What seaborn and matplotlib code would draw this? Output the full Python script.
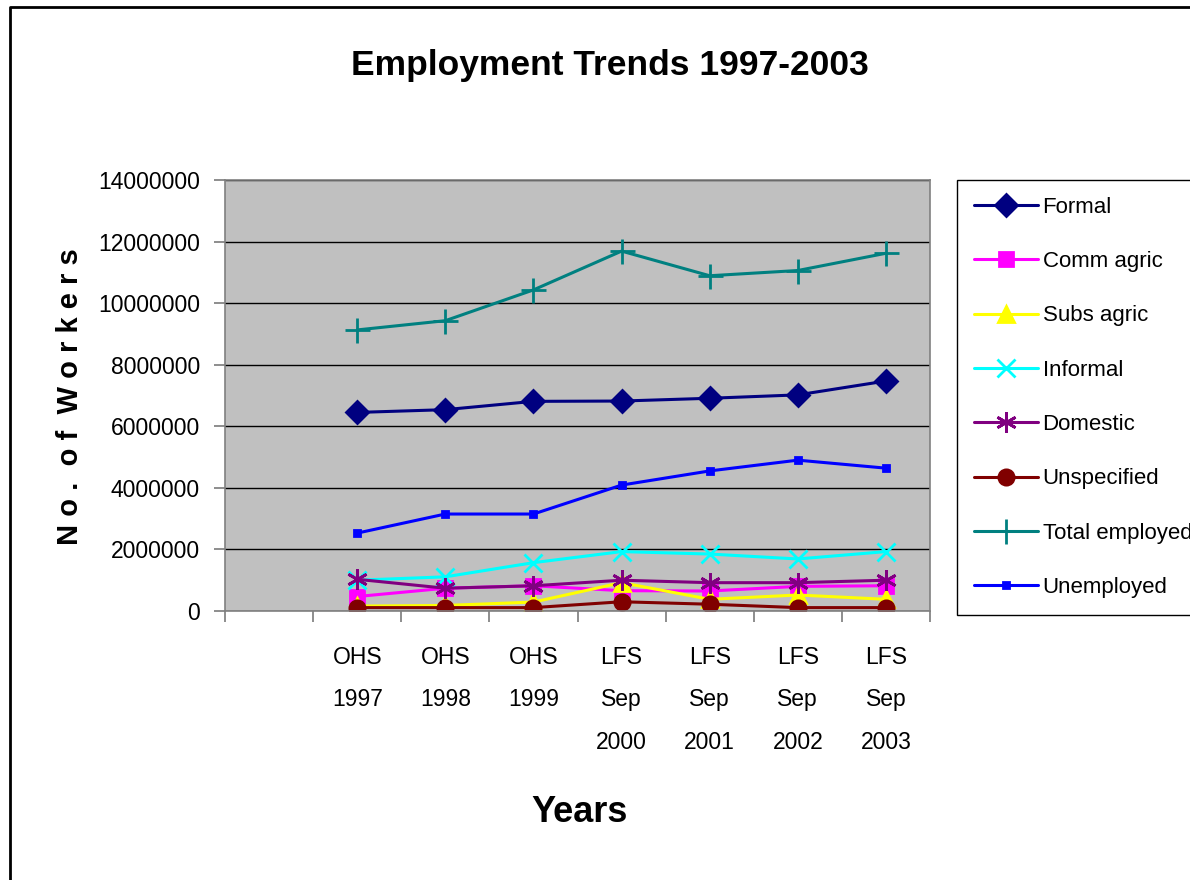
"""Employment trends 1997-2003, redrawn in the old Excel chart look."""
import matplotlib
matplotlib.use("Agg")
import matplotlib.pyplot as plt
from matplotlib.lines import Line2D
import seaborn as sns

# Category slots: the first one is empty, as in the source sheet.
categories = ["", "OHS\n1997", "OHS\n1998", "OHS\n1999",
              "LFS\nSep\n2000", "LFS\nSep\n2001", "LFS\nSep\n2002", "LFS\nSep\n2003"]
surveys = categories[1:]

formal = [6450000, 6540000, 6810000, 6820000, 6910000, 7020000, 7470000]
comm_agric = [470000, 740000, 820000, 660000, 650000, 800000, 820000]
subs_agric = [160000, 180000, 290000, 920000, 380000, 520000, 380000]
informal = [1000000, 1110000, 1570000, 1930000, 1850000, 1690000, 1930000]
domestic = [1030000, 740000, 820000, 1000000, 920000, 920000, 1000000]
unspecified = [110000, 110000, 110000, 300000, 220000, 110000, 110000]
total_employed = [9130000, 9430000, 10430000, 11690000, 10890000, 11060000, 11620000]
unemployed = [2530000, 3150000, 3150000, 4090000, 4550000, 4900000, 4640000]

y_ticks = [0, 2000000, 4000000, 6000000, 8000000, 10000000, 12000000, 14000000]

# name, values, colour, marker, marker size
series = [
    ("Formal", formal, "#000080", "D", 11),
    ("Comm agric", comm_agric, "#FF00FF", "s", 10),
    ("Subs agric", subs_agric, "#FFFF00", "^", 11),
    ("Informal", informal, "#00FFFF", "x", 13),
    ("Domestic", domestic, "#800080", (6, 2, 0), 15),
    ("Unspecified", unspecified, "#800000", "o", 11),
    ("Total employed", total_employed, "#008080", "+", 18),
    ("Unemployed", unemployed, "#0000FF", "s", 4),
]

sns.set_theme(style="white")
plt.rcParams["font.family"] = ["Liberation Sans", "DejaVu Sans"]
plt.rcParams["text.color"] = "black"
plt.rcParams["xtick.color"] = "black"
plt.rcParams["ytick.color"] = "black"

W, H = 1190, 880
fig = plt.figure(figsize=(W / 100, H / 100), dpi=100)
ax = fig.add_axes([225 / W, 1 - 611 / H, 705 / W, 431 / H])
ax.set_facecolor("#C0C0C0")

x_pos = [categories.index(c) for c in surveys]
for name, vals, color, marker, ms in series:
    sns.lineplot(x=x_pos, y=vals, ax=ax, color=color, marker=marker,
                 markersize=ms, linewidth=2.2, label=name)

for line in ax.lines:
    line.set_markeredgecolor(line.get_color())
    line.set_markeredgewidth(2.0)

ax.set_xlim(-0.5, len(categories) - 0.5)
ax.set_ylim(0, 14000000)
ax.set_yticks(y_ticks)
ax.ticklabel_format(style="plain", axis="y", useOffset=False)
ax.yaxis.grid(True, color="black", linewidth=1)
ax.xaxis.grid(False)
ax.set_axisbelow(True)

# boundary ticks as marks, labels centred in each slot
ax.set_xticks([i - 0.5 for i in range(len(categories) + 1)])
ax.set_xticklabels([])
ax.set_xticks(range(len(categories)), minor=True)
ax.set_xticklabels(categories, minor=True, fontsize=16.5, linespacing=2.08,
                   va="top")
ax.tick_params(axis="x", which="major", direction="out", length=8,
               color="#808080", bottom=True)
ax.tick_params(axis="x", which="minor", length=0, pad=25)
ax.tick_params(axis="y", direction="out", length=8, color="#808080",
               left=True, labelsize=16.5, pad=10)
for s in ax.spines.values():
    s.set_color("#808080")
    s.set_linewidth(1.2)

ax.set_xlabel("")
ax.set_ylabel("")

leg = ax.legend(loc="upper left", bbox_to_anchor=(957 / W, 1 - 180 / H),
                bbox_transform=fig.transFigure, fontsize=16, frameon=True,
                fancybox=False, edgecolor="black", framealpha=1,
                handlelength=2.9, labelspacing=1.5, borderpad=0.75,
                handletextpad=0.2, borderaxespad=0)
leg.get_frame().set_linewidth(1)
for h in leg.legend_handles:
    h.set_markeredgecolor(h.get_color())

fig.text(610 / W, 1 - 65 / H, "Employment Trends 1997-2003", ha="center",
         va="center", fontsize=25.5, fontweight="bold")
fig.text(580 / W, 1 - 812 / H, "Years", ha="center", va="center",
         fontsize=26, fontweight="bold")
fig.text(70 / W, 1 - 397 / H, "N o .  o f  W o r k e r s", ha="center",
         va="center", rotation=90, fontsize=21, fontweight="bold")

# chart area border (only top and left fall inside the picture)
fig.add_artist(Line2D([10 / W, 10 / W, 1], [0, 1 - 7 / H, 1 - 7 / H],
                      transform=fig.transFigure, color="black", linewidth=2))

fig.savefig("out.png", dpi=100, facecolor="white")
plt.close(fig)
